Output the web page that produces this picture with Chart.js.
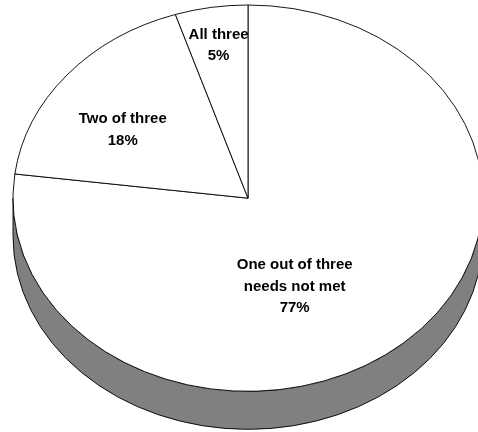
<!DOCTYPE html>
<html>
<head>
<meta charset="utf-8">
<script src="https://cdn.jsdelivr.net/npm/chart.js@4.4.1/dist/chart.umd.min.js"></script>
<style>
html, body { margin: 0; padding: 0; background: #fff; overflow: hidden; }
#wrap { width: 478px; height: 432px; overflow: hidden; }
</style>
</head>
<body>
<div id="wrap"><canvas id="mycanvas" width="500" height="480"></canvas></div>
<script>
// data, clockwise from 12 o'clock
var categories = [['One out of three', 'needs not met'], ['Two of three'], ['All three']];
var shares = [77, 18, 5];

// look of the 3d pie
var TILT = 0.822;   // ellipse height / width
var DEPTH = 38;     // thickness of the side in px
var TOP = 5;        // y of the top of the ellipse
var labelPlace = [{r: 0.5, da: 18}, {r: 0.64, da: -6}, {r: 0.8, da: 0}];

function toScreenY(arc, y) {
	var cyT = TOP + TILT * arc.outerRadius;
	return cyT + TILT * (y - arc.y);
}

var pie3d = {
	id: 'pie3d',
	beforeDatasetsDraw: function(chart) {
		var ctx = chart.ctx;
		var arc = chart.getDatasetMeta(0).data[0];
		var R = arc.outerRadius, cx = arc.x, cy = arc.y;
		var cyT = TOP + TILT * R;
		ctx.save();
		ctx.translate(0, cyT);
		ctx.scale(1, TILT);
		ctx.translate(0, -cy);
		// side of the pie
		var d = DEPTH / TILT;
		ctx.beginPath();
		ctx.moveTo(cx + R, cy);
		ctx.arc(cx, cy, R, 0, Math.PI, false);
		ctx.lineTo(cx - R, cy + d);
		ctx.arc(cx, cy + d, R, Math.PI, 0, true);
		ctx.closePath();
		ctx.fillStyle = '#808080';
		ctx.fill();
		ctx.lineWidth = 1;
		ctx.strokeStyle = '#000';
		ctx.stroke();
	},
	afterDatasetsDraw: function(chart) {
		var ctx = chart.ctx;
		ctx.restore();
		var meta = chart.getDatasetMeta(0);
		var total = shares.reduce(function(a, b){ return a + b; }, 0);
		ctx.save();
		ctx.fillStyle = '#000';
		ctx.font = 'bold 15px "Liberation Sans", Arial, sans-serif';
		ctx.textAlign = 'center';
		ctx.textBaseline = 'middle';
		for (var i = 0; i < meta.data.length; i++) {
			var a = meta.data[i];
			var mid = (a.startAngle + a.endAngle) / 2 + labelPlace[i].da * Math.PI / 180;
			var rr = a.outerRadius * labelPlace[i].r;
			var x = a.x + rr * Math.cos(mid);
			var y = toScreenY(a, a.y + rr * Math.sin(mid));
			var lines = categories[i].concat([Math.round(shares[i] / total * 100) + '%']);
			var lh = 21.5;
			var y0 = y - (lines.length - 1) * lh / 2;
			for (var j = 0; j < lines.length; j++) {
				ctx.fillText(lines[j], x, y0 + j * lh);
			}
		}
		ctx.restore();
	}
};

var ctx = document.getElementById('mycanvas');
var pieChart = new Chart(ctx, {
	type: 'pie',
	data: {
		labels: categories,
		datasets: [{
			data: shares,
			backgroundColor: '#ffffff',
			borderColor: '#000000',
			borderWidth: 1,
			clip: false
		}]
	},
	options: {
		responsive: false,
		animation: false,
		events: [],
		layout: { padding: { left: 12.5, top: 0, right: 16.5, bottom: 9 } },
		plugins: {
			legend: { display: false },
			tooltip: { enabled: false }
		}
	},
	plugins: [pie3d]
});
</script>
</body>
</html>
